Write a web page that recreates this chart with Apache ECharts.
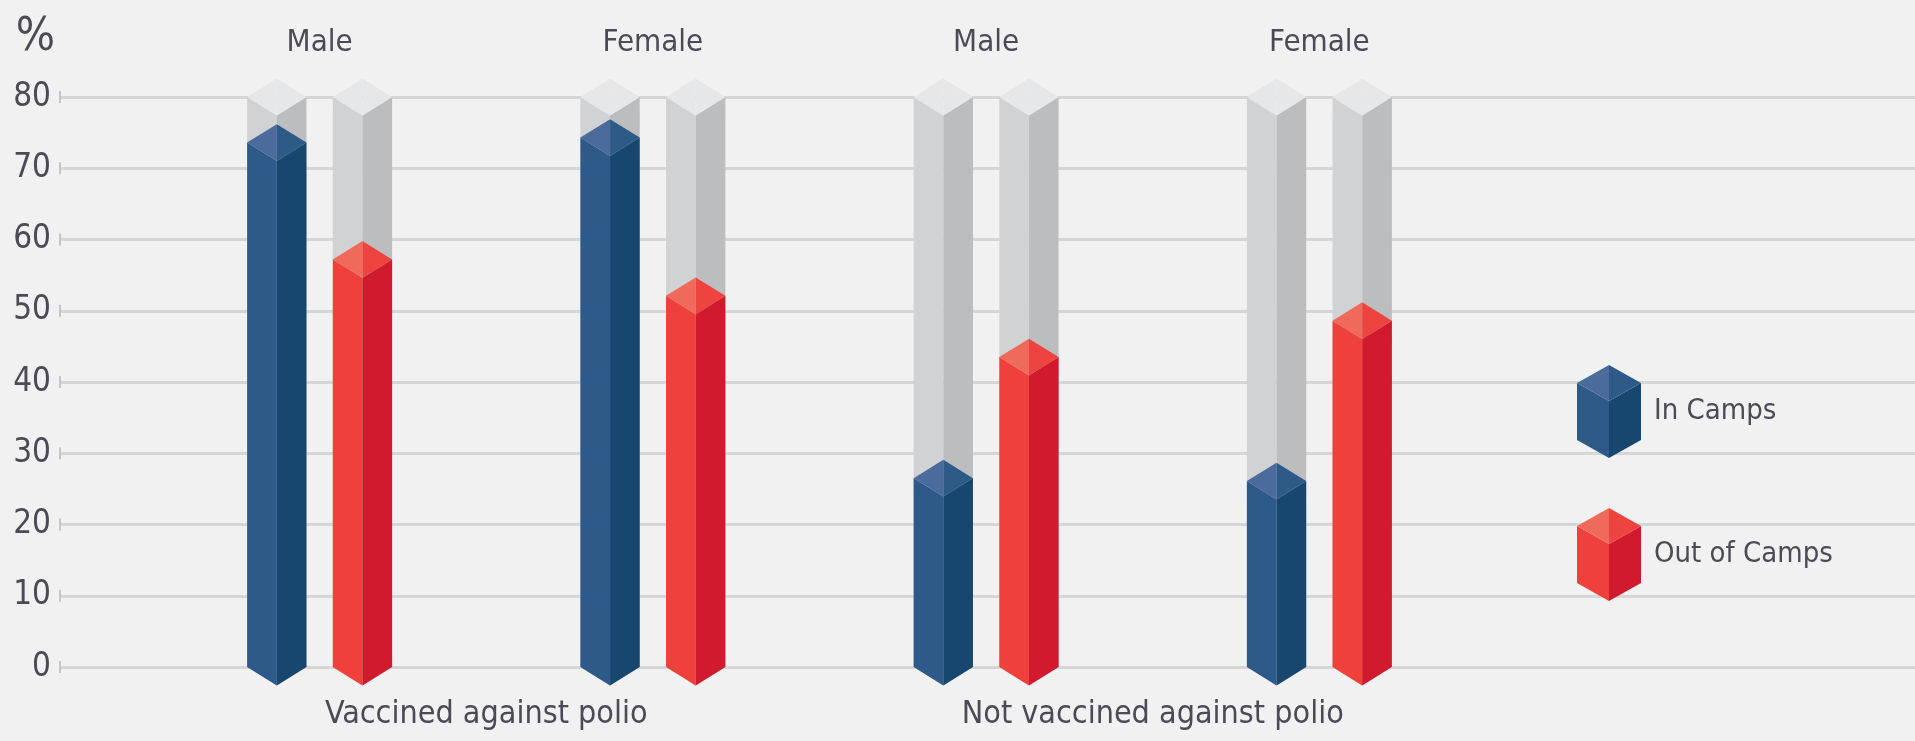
<!DOCTYPE html>
<html>
<head>
<meta charset="utf-8">
<script src="https://cdn.jsdelivr.net/npm/echarts@6/dist/echarts.min.js"></script>
<style>
  html, body { margin: 0; padding: 0; background: #f1f1f1; }
  #chart { width: 1915px; height: 741px; }
</style>
</head>
<body>
<div id="chart"></div>
<script>
// Chart data
const genders = ['Male', 'Female', 'Male', 'Female'];
const groups = ['Vaccined against polio', 'Not vaccined against polio'];
const inCamps = [73.6, 74.3, 26.5, 26.1];
const outOfCamps = [57.2, 52.1, 43.5, 48.6];
const seriesNames = ['In Camps', 'Out of Camps'];
const yMin = 0;
const yMax = 80;
const yStep = 10;

const FONT = '"Liberation Sans Narrow", "DejaVu Sans Condensed", "Roboto", sans-serif';
const TEXT = '#4b4b57';

// Face colours of the little prisms
const palettes = {
    blue: { left: '#2d5a88', right: '#17466f', topLeft: '#4a6b9b', topRight: '#2e5a88' },
    red: { left: '#ef403b', right: '#d21a2e', topLeft: '#f06a5b', topRight: '#ee4440' },
    gray: { left: '#d1d2d4', right: '#bcbdbf', topLeft: '#e6e7e9', topRight: '#e6e7e9' }
};

// Builds an svg legend icon shaped like the bars
function cubeIcon(p) {
    const svg = '<svg xmlns="http://www.w3.org/2000/svg" width="64" height="93" viewBox="0 0 64 93">' +
        '<polygon points="0,18 32,36 32,93 0,75" fill="' + p.left + '"/>' +
        '<polygon points="32,36 64,18 64,75 32,93" fill="' + p.right + '"/>' +
        '<polygon points="32,0 32,36 0,18" fill="' + p.topLeft + '"/>' +
        '<polygon points="32,0 64,18 32,36" fill="' + p.topRight + '"/></svg>';
    return 'image://data:image/svg+xml;charset=utf-8,' + encodeURIComponent(svg);
}

// One prism between two y pixel positions
function prism(xl, xc, xr, yTop, yBase, d, p) {
    return [
        { type: 'polygon', shape: { points: [[xl, yTop], [xc, yTop + d], [xc, yBase + d], [xl, yBase]] }, style: { fill: p.left } },
        { type: 'polygon', shape: { points: [[xc, yTop + d], [xr, yTop], [xr, yBase], [xc, yBase + d]] }, style: { fill: p.right } },
        { type: 'polygon', shape: { points: [[xc, yTop - d], [xc, yTop + d], [xl, yTop]] }, style: { fill: p.topLeft } },
        { type: 'polygon', shape: { points: [[xc, yTop - d], [xr, yTop], [xc, yTop + d]] }, style: { fill: p.topRight } }
    ];
}

// Render function for one side of each category pair
function makeRenderer(side, palette) {
    return function (params, api) {
        const cat = api.value(0);
        const val = api.value(1);
        const band = api.size([1, 0])[0];
        const top = api.coord([cat, val]);
        const base = api.coord([cat, yMin]);
        const full = api.coord([cat, yMax]);
        const xc = top[0] + side * band * 0.1285;
        const half = band * 0.089;
        const d = half * 0.62;
        return {
            type: 'group',
            children: prism(xc - half, xc, xc + half, full[1], base[1], d, palettes.gray)
                .concat(prism(xc - half, xc, xc + half, top[1], base[1], d, palette))
        };
    };
}

const chart = echarts.init(document.getElementById('chart'));

chart.setOption({
    backgroundColor: '#f1f1f1',
    animation: false,
    textStyle: { fontFamily: FONT },
    legend: {
        orient: 'vertical',
        left: 1572,
        top: 360,
        itemWidth: 64,
        itemHeight: 93,
        itemGap: 50,
        selectedMode: false,
        textStyle: { fontFamily: FONT, fontSize: 29, color: TEXT, padding: [10, 0, 0, 8] },
        data: [
            { name: seriesNames[0], icon: cubeIcon(palettes.blue) },
            { name: seriesNames[1], icon: cubeIcon(palettes.red) }
        ]
    },
    grid: [
        { left: 153, width: 1333, top: 97, bottom: 74 },
        { left: 61, right: 0, top: 97, bottom: 74 }
    ],
    xAxis: [
        {
            gridIndex: 0, type: 'category', data: genders, position: 'top',
            axisLine: { show: false }, axisTick: { show: false },
            axisLabel: { fontFamily: FONT, fontSize: 31, color: TEXT, margin: 39 }
        },
        {
            gridIndex: 0, type: 'category', data: groups, position: 'bottom',
            axisLine: { show: false }, axisTick: { show: false },
            axisLabel: { fontFamily: FONT, fontSize: 32, color: TEXT, margin: 32 }
        },
        { gridIndex: 1, type: 'value', show: false }
    ],
    yAxis: [
        { gridIndex: 0, type: 'value', min: yMin, max: yMax, interval: yStep, show: false },
        {
            gridIndex: 1, type: 'value', min: yMin, max: yMax, interval: yStep,
            name: '%', nameLocation: 'end', nameGap: 36,
            nameTextStyle: { fontFamily: FONT, fontSize: 46, color: TEXT, align: 'right', padding: [0, 6, 0, 0] },
            axisLine: { show: false }, axisTick: { show: false },
            splitLine: { lineStyle: { color: '#d5d6d8', width: 3 } },
            axisLabel: {
                margin: 0,
                formatter: v => '{v|' + v + '}{t|}',
                rich: {
                    v: { fontFamily: FONT, fontSize: 33, color: TEXT, padding: [0, 8, 0, 0] },
                    t: { width: 2, height: 12, backgroundColor: '#c4c5c7' }
                }
            }
        }
    ],
    series: [
        {
            name: seriesNames[0], type: 'custom', xAxisIndex: 0, yAxisIndex: 0,
            itemStyle: { color: palettes.blue.left },
            renderItem: makeRenderer(-1, palettes.blue),
            data: inCamps.map((v, i) => [i, v])
        },
        {
            name: seriesNames[1], type: 'custom', xAxisIndex: 0, yAxisIndex: 0,
            itemStyle: { color: palettes.red.left },
            renderItem: makeRenderer(1, palettes.red),
            data: outOfCamps.map((v, i) => [i, v])
        }
    ]
});

window.addEventListener('resize', () => chart.resize());
</script>
</body>
</html>
